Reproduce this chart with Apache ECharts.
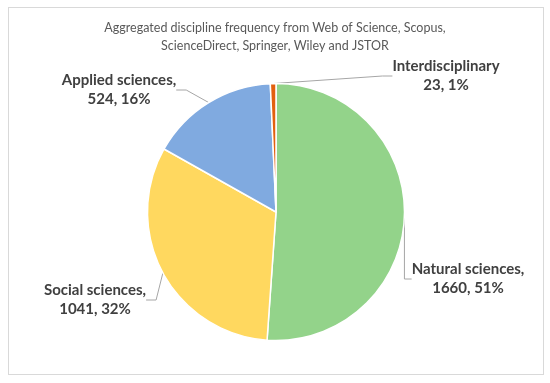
<!DOCTYPE html>
<html>
<head>
<meta charset="utf-8">
<script src="https://cdn.jsdelivr.net/npm/echarts@6/dist/echarts.min.js"></script>
<style>
html,body{margin:0;padding:0;background:#fff;}
#frame{position:absolute;left:8px;top:7px;width:536px;height:368px;border:1px solid #d9d9d9;box-sizing:border-box;}
#chart{position:absolute;left:0;top:0;width:550px;height:383px;}
</style>
</head>
<body>
<div id="frame"></div>
<div id="chart"></div>
<script>
const titleLines = ['Aggregated discipline frequency from Web of Science, Scopus,', 'ScienceDirect, Springer, Wiley and JSTOR'];
const categories = ['Natural sciences', 'Social sciences', 'Applied sciences', 'Interdisciplinary'];
const values = [1660, 1041, 524, 23];
const percents = ['51%', '32%', '16%', '1%'];
const colors = ['#93D38A', '#FFD85F', '#80AAE0', '#E2600F'];

// label positions (centre of label text block) in px
const labelPos = [
  {x: 468, y: 279},
  {x: 95, y: 300},
  {x: 119, y: 90},
  {x: 446, y: 76}
];

const chart = echarts.init(document.getElementById('chart'), null, {renderer: 'canvas'});
const FONT = 'Lato, "Open Sans", sans-serif';
chart.setOption({
  animation: false,
  title: {
    text: titleLines.join('\n'),
    left: 'center',
    top: 14,
    textStyle: {fontFamily: FONT, fontSize: 12.5, fontWeight: 'normal', color: '#595959', lineHeight: 18}
  },
  series: [{
    type: 'pie',
    center: [276, 212],
    radius: 128.5,
    startAngle: 90,
    clockwise: true,
    avoidLabelOverlap: false,
    data: categories.map((c, i) => ({
      name: c, value: values[i],
      itemStyle: {color: colors[i]},
      label: {formatter: (i === 3 ? c + '\n' : c + ',\n') + values[i] + ', ' + percents[i]}
    })),
    itemStyle: {borderColor: '#fff', borderWidth: 1.5},
    label: {
      show: true,
      fontFamily: FONT,
      fontSize: 15,
      fontWeight: 'bold',
      color: '#404040',
      lineHeight: 19,
      align: 'center'
    },
    labelLine: {show: true, length: 10, length2: 10, lineStyle: {color: '#a6a6a6', width: 1}},
    labelLayout: function (p) {
      const pos = labelPos[p.dataIndex];
      return {x: pos.x, y: pos.y, align: 'center', verticalAlign: 'middle'};
    }
  }]
});
</script>
</body>
</html>
